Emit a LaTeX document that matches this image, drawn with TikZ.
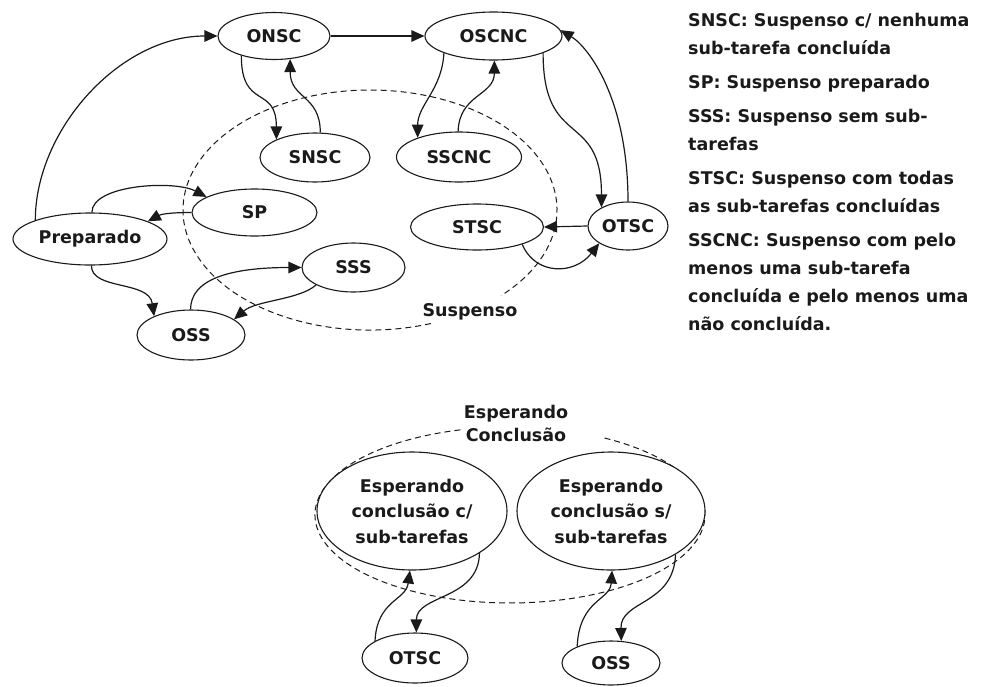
\documentclass[tikz,border=0pt]{standalone}
\usepackage{fontspec}
\setmainfont{DejaVu Sans}
\usetikzlibrary{shapes.geometric,arrows.meta}
\definecolor{ink}{HTML}{1A1A1A}
\begin{document}
\begin{tikzpicture}[x=1pt,y=-1pt,
  every node/.style={font=\fontsize{17.5}{21}\selectfont\bfseries, text=ink},
  state/.style={ellipse, draw=ink, line width=1.1pt, fill=white, inner sep=0pt},
  link/.style={draw=ink, line width=1.2pt, -{Triangle[length=13pt,width=11.5pt]}},
  region/.style={draw=ink, line width=1pt, dash pattern=on 6pt off 4pt},
  legend/.style={anchor=base west, inner sep=0pt}]
\useasboundingbox (0,0) rectangle (988,686);

% ---------- group of suspended states ----------
\draw[region] (430.9,323.5) arc[start angle=71, end angle=405.5, x radius=187, y radius=120];
\node (lblsusp) at (470,312) {Suspenso};

\node[state, minimum width=112pt, minimum height=47pt] (onsc)  at (274,36)    {ONSC};
\node[state, minimum width=137pt, minimum height=48pt] (oscnc) at (493.5,36)  {OSCNC};
\node[state, minimum width=110pt, minimum height=49pt] (snsc)  at (315,157.5) {SNSC};
\node[state, minimum width=125pt, minimum height=50pt] (sscnc) at (459,157)   {SSCNC};
\node[state, minimum width=125pt, minimum height=47pt] (sp)    at (254.5,212.5) {SP};
\node[state, minimum width=154pt, minimum height=52pt] (prep)  at (90,239)    {Preparado};
\node[state, minimum width=103pt, minimum height=49pt] (sss)   at (353.5,267.5) {SSS};
\node[state, minimum width=108pt, minimum height=50pt] (oss)   at (191,335)   {OSS};
\node[state, minimum width=133pt, minimum height=46pt] (stsc)  at (477,227)   {STSC};
\node[state, minimum width=80pt,  minimum height=48pt] (otsc)  at (628,226)   {OTSC};

\draw[link] (prep.161) .. controls +(0,-90) and +(-98,0) .. (onsc.west);
\draw[link] (onsc.east) -- (oscnc.west);
\draw[link] (onsc.211) .. controls +(0,55) and +(0,-55) .. (snsc.155);
\draw[link] (snsc.78) .. controls +(0,-38) and +(0,40) .. (onsc.-55);
\draw[link] (oscnc.199) .. controls +(-2,37) and +(0,-33) .. (sscnc.155);
\draw[link] (sscnc.92) .. controls +(1,-37) and +(0,35) .. (oscnc.-88);
\draw[link] (oscnc.-19) .. controls +(0,97) and +(0,-98) .. (otsc.145);
\draw[link] (otsc.90) .. controls +(0,-102) and +(28,17) .. (oscnc.5);
\draw[link] (otsc.west) -- (stsc.east);
\draw[link] (stsc.-21) .. controls +(13,31) and +(-25,32) .. (otsc.211);
\draw[link] (prep.86) .. controls +(0,-28) and +(-32,-17) .. (sp.162);
\draw[link] (sp.west) .. controls +(-22,0) and +(13,-7) .. (prep.17);
\draw[link] (prep.-87) .. controls +(0,25) and +(-5,-36) .. (oss.153);
\draw[link] (oss.91) .. controls +(0,-30) and +(-72,0) .. (sss.west);
\draw[link] (sss.205) .. controls +(-17,15) and +(22,-19) .. (oss.20);

% ---------- legend ----------
\node[legend] (leg1)  at (688,26)  {SNSC: Suspenso c/ nenhuma};
\node[legend] (leg2)  at (688,54)  {sub-tarefa concluída};
\node[legend] (leg3)  at (688,88)  {SP: Suspenso preparado};
\node[legend] (leg4)  at (688,122) {SSS: Suspenso sem sub-};
\node[legend] (leg5)  at (688,150) {tarefas};
\node[legend] (leg6)  at (688,184) {STSC: Suspenso com todas};
\node[legend] (leg7)  at (688,212) {as sub-tarefas concluídas};
\node[legend] (leg8)  at (688,246) {SSCNC: Suspenso com pelo};
\node[legend] (leg9)  at (688,274) {menos uma sub-tarefa};
\node[legend] (leg10) at (688,302) {concluída e pelo menos uma};
\node[legend] (leg11) at (688,330) {não concluída.};

% ---------- waiting for completion ----------
\draw[region] (604.5,438) arc[start angle=-61, end angle=256, x radius=195, y radius=88];
\node[align=center, font=\fontsize{17.5}{23}\selectfont\bfseries] (lblwait) at (516,423) {Esperando\\Conclusão};

\node[state, align=center, font=\fontsize{17.5}{25.5}\selectfont\bfseries,
      minimum width=190pt, minimum height=118pt] (bigL) at (412,511)
      {Esperando\\conclusão c/\\sub-tarefas};
\node[state, align=center, font=\fontsize{17.5}{25.5}\selectfont\bfseries,
      minimum width=188pt, minimum height=118pt] (bigR) at (611,511)
      {Esperando\\conclusão s/\\sub-tarefas};
\node[state, minimum width=106pt, minimum height=50pt] (otsc2) at (415,658) {OTSC};
\node[state, minimum width=98pt,  minimum height=44pt] (oss2)  at (611,663) {OSS};

\draw[link] (otsc2.157) .. controls +(2,-41) and +(-4,30) .. (bigL.-92);
\draw[link] (bigL.-32) .. controls +(-1,47) and +(0,-38) .. (otsc2.87);
\draw[link] (oss2.154) .. controls +(2,-47) and +(-2,30) .. (bigR.-89);
\draw[link] (bigR.-34) .. controls +(-2,51) and +(-1,-41) .. (oss2.65);
\end{tikzpicture}
\end{document}
